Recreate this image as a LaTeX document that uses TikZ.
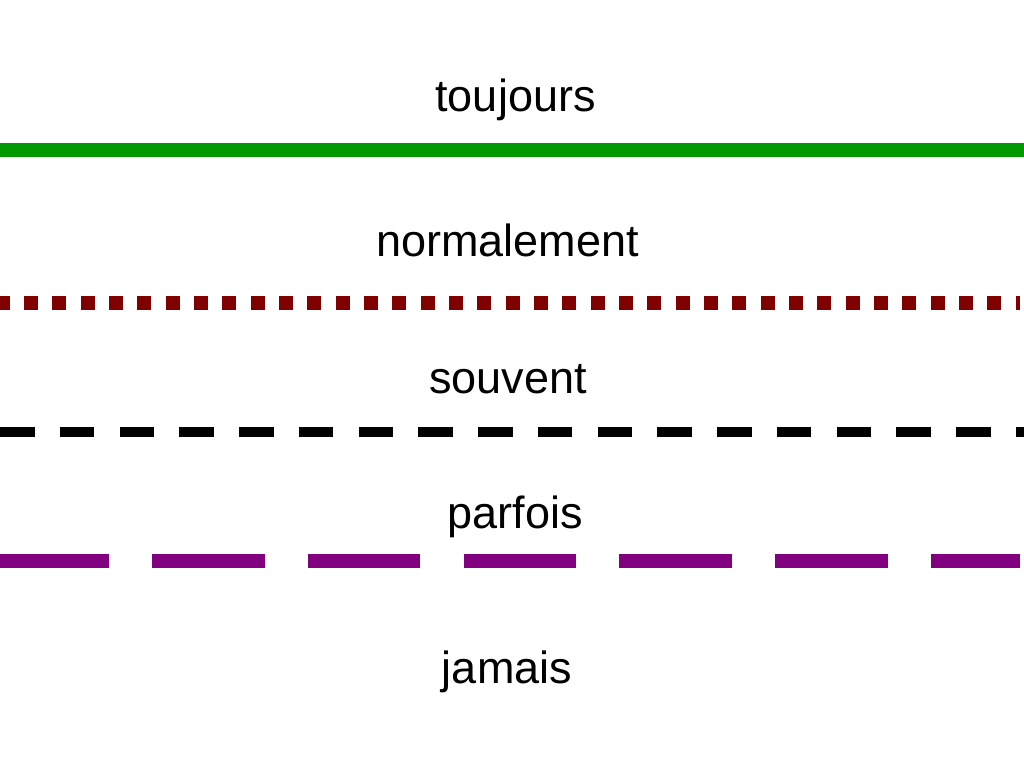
\documentclass[tikz,border=0pt]{standalone}
\usepackage{fontspec}
\setmainfont{Liberation Sans}
\usepackage{tikz}
\definecolor{toujoursgreen}{RGB}{0,153,0}
\definecolor{normalred}{RGB}{128,0,0}
\definecolor{parfoispurple}{RGB}{128,0,128}
\def\linewide{(0,0) -- (1024,0)}
\def\lineshort{(0,0) -- (1020,0)}

\begin{document}
\begin{tikzpicture}[x=1pt,y=-1pt,
    label/.style={anchor=base,inner sep=0pt,font=\fontsize{45}{54}\selectfont},
    solidline/.style={toujoursgreen,line width=14pt},
    dotline/.style={normalred,line width=14pt,dash pattern=on 14pt off 14.33pt,dash phase=4.33pt},
    dashline/.style={black,line width=10pt,dash pattern=on 34.5pt off 25.25pt},
    longdashline/.style={parfoispurple,line width=14pt,dash pattern=on 112.5pt off 43.3pt,dash phase=3.8pt}]
    \useasboundingbox (0,0) rectangle (1024,768);
    \node[label] (toujours) at (515.5,111) {toujours};
    \node[label] (normalement) at (507.5,256) {normalement};
    \node[label] (souvent) at (508,393) {souvent};
    \node[label] (parfois) at (515,528) {parfois};
    \node[label] (jamais) at (507,683) {jamais};
    \begin{scope}[yshift=-150pt]
        \draw[solidline] \linewide;
    \end{scope}
    \begin{scope}[yshift=-303pt]
        \draw[dotline] \lineshort;
    \end{scope}
    \begin{scope}[yshift=-432pt]
        \draw[dashline] \linewide;
    \end{scope}
    \begin{scope}[yshift=-561pt]
        \draw[longdashline] \lineshort;
    \end{scope}
\end{tikzpicture}
\end{document}
